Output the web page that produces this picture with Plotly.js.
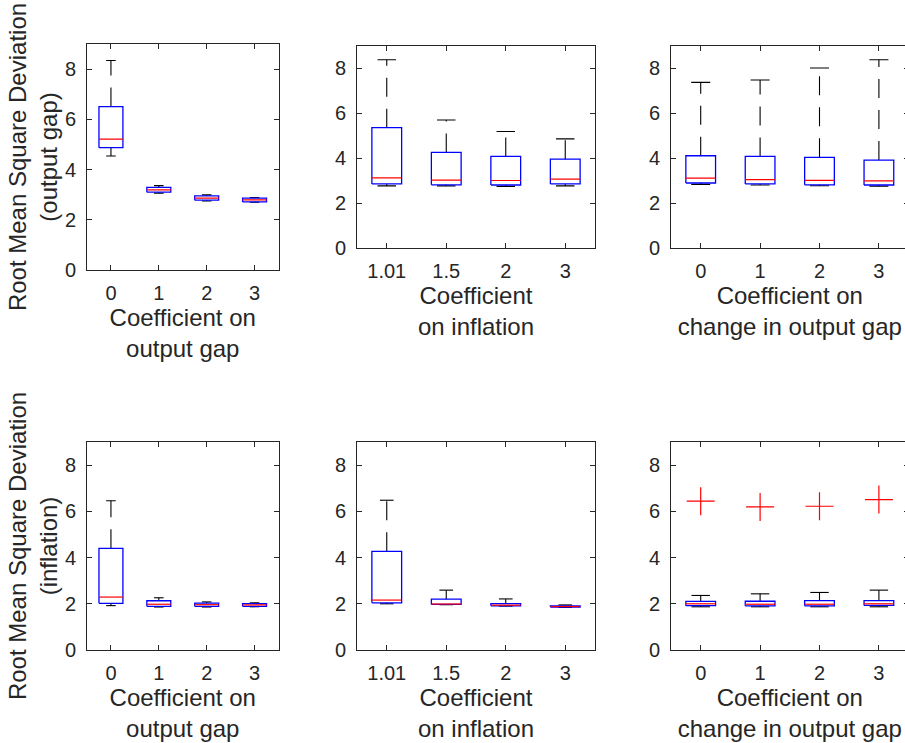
<!DOCTYPE html>
<html>
<head>
<meta charset="utf-8">
<script src="https://cdn.plot.ly/plotly-3.0.1.min.js"></script>
<style>
  html, body { margin: 0; padding: 0; overflow: hidden; background: #fff; }
  #chart { width: 909px; height: 743px; }
</style>
</head>
<body>
<div id="chart"></div>
<script>
// ---------------- DATA ----------------
const positions = [1, 2, 3, 4];
const ticksOutputGap = ['0', '1', '2', '3'];
const ticksInflation = ['1.01', '1.5', '2', '3'];
const ticksChange = ['0', '1', '2', '3'];

// Panel A: RMSD (output gap) vs coefficient on output gap
const aLow = [4.54, 3.06, 2.75, 2.70];
const aQ1  = [4.87, 3.10, 2.78, 2.71];
const aMed = [5.21, 3.19, 2.86, 2.79];
const aQ3  = [6.51, 3.29, 2.95, 2.86];
const aHigh = [8.34, 3.36, 2.99, 2.89];

// Panel B: RMSD (output gap) vs coefficient on inflation
const bLow = [2.76, 2.76, 2.74, 2.76];
const bQ1  = [2.85, 2.81, 2.80, 2.85];
const bMed = [3.12, 3.02, 3.00, 3.06];
const bQ3  = [5.35, 4.25, 4.07, 3.95];
const bHigh = [8.37, 5.69, 5.18, 4.85];

// Panel C: RMSD (output gap) vs coefficient on change in output gap
const cLow = [2.83, 2.80, 2.77, 2.75];
const cQ1  = [2.89, 2.85, 2.81, 2.80];
const cMed = [3.11, 3.04, 3.01, 2.98];
const cQ3  = [4.10, 4.07, 4.03, 3.91];
const cHigh = [7.36, 7.47, 8.00, 8.37];

// Panel D: RMSD (inflation) vs coefficient on output gap
const dLow = [1.92, 1.86, 1.86, 1.87];
const dQ1  = [2.02, 1.89, 1.89, 1.89];
const dMed = [2.29, 1.98, 1.96, 1.95];
const dQ3  = [4.40, 2.13, 2.03, 2.01];
const dHigh = [6.46, 2.26, 2.08, 2.04];

// Panel E: RMSD (inflation) vs coefficient on inflation
const eLow = [2.00, 1.96, 1.90, 1.84];
const eQ1  = [2.04, 1.97, 1.91, 1.86];
const eMed = [2.16, 1.99, 1.94, 1.88];
const eQ3  = [4.27, 2.20, 2.01, 1.91];
const eHigh = [6.48, 2.59, 2.21, 1.95];

// Panel F: RMSD (inflation) vs coefficient on change in output gap
const fLow = [1.87, 1.87, 1.87, 1.87];
const fQ1  = [1.92, 1.91, 1.91, 1.93];
const fMed = [2.00, 1.98, 1.98, 2.00];
const fQ3  = [2.10, 2.11, 2.14, 2.14];
const fHigh = [2.36, 2.43, 2.49, 2.59];
const fOutliers = [6.44, 6.19, 6.22, 6.51];

// ---------------- STYLE ----------------
const W = 909, H = 743;
const DARK = '#262626';
const FONT = '"Liberation Sans", Arial, Helvetica, sans-serif';
const BOX_HALF = 0.25;

function px2x(a, b) { return [a / W, Math.min(1, b / W)]; }
function px2y(top, bottom) { return [(H - bottom) / H, (H - top) / H]; }

const traces = [];

function addPanel(n, low, q1, med, q3, high, capHalf, outliers) {
  const xa = n === 1 ? 'x' : 'x' + n;
  const ya = n === 1 ? 'y' : 'y' + n;
  const bx = [], by = [], mx = [], my = [], wx = [], wy = [], kx = [], ky = [];
  positions.forEach((p, i) => {
    bx.push(p - BOX_HALF, p + BOX_HALF, p + BOX_HALF, p - BOX_HALF, p - BOX_HALF, null);
    by.push(q1[i], q1[i], q3[i], q3[i], q1[i], null);
    mx.push(p - BOX_HALF, p + BOX_HALF, null);
    my.push(med[i], med[i], null);
    wx.push(p, p, null, p, p, null);
    wy.push(q3[i], high[i], null, q1[i], low[i], null);
    kx.push(p - capHalf, p + capHalf, null, p - capHalf, p + capHalf, null);
    ky.push(high[i], high[i], null, low[i], low[i], null);
  });
  const common = { xaxis: xa, yaxis: ya, mode: 'lines', hoverinfo: 'skip', showlegend: false };
  traces.push(Object.assign({ x: wx, y: wy, line: { color: '#000', width: 1.1, dash: '19px,12px' } }, common));
  traces.push(Object.assign({ x: kx, y: ky, line: { color: '#000', width: 1.1 } }, common));
  traces.push(Object.assign({ x: bx, y: by, line: { color: '#0000ff', width: 1.3 } }, common));
  traces.push(Object.assign({ x: mx, y: my, line: { color: '#ff0000', width: 1.2 } }, common));
  if (outliers) {
    traces.push({ x: positions, y: outliers, xaxis: xa, yaxis: ya, mode: 'markers', showlegend: false,
      hoverinfo: 'skip',
      marker: { symbol: 'cross-thin', size: 20, color: '#ff0000', line: { color: '#ff0000', width: 1.2 } } });
  }
}

addPanel(1, aLow, aQ1, aMed, aQ3, aHigh, 0.1);
addPanel(2, bLow, bQ1, bMed, bQ3, bHigh, 0.155);
addPanel(3, cLow, cQ1, cMed, cQ3, cHigh, 0.16);
addPanel(4, dLow, dQ1, dMed, dQ3, dHigh, 0.1);
addPanel(5, eLow, eQ1, eMed, eQ3, eHigh, 0.115);
addPanel(6, fLow, fQ1, fMed, fQ3, fHigh, 0.155, fOutliers);

function xAxis(domain, anchor, ticktext, title) {
  return {
    domain: domain, anchor: anchor, range: [0.5, 4.5],
    tickmode: 'array', tickvals: positions, ticktext: ticktext,
    ticks: 'inside', ticklen: 5, tickwidth: 1, tickcolor: DARK,
    showline: true, linecolor: DARK, linewidth: 1, mirror: 'ticks',
    showgrid: false, zeroline: false, fixedrange: true,
    ticklabelstandoff: 5,
    tickfont: { family: FONT, size: 20, color: DARK },
    title: { text: title, font: { family: FONT, size: 24, color: DARK }, standoff: 5 }
  };
}
function yAxis(domain, anchor, title) {
  const ax = {
    domain: domain, anchor: anchor, range: [0, 9],
    tickmode: 'array', tickvals: [0, 2, 4, 6, 8],
    ticks: 'inside', ticklen: 5, tickwidth: 1, tickcolor: DARK,
    showline: true, linecolor: DARK, linewidth: 1, mirror: 'ticks',
    showgrid: false, zeroline: false, fixedrange: true,
    ticklabelstandoff: 6,
    tickfont: { family: FONT, size: 20, color: DARK }
  };
  if (title) ax.title = { text: title, font: { family: FONT, size: 24, color: DARK }, standoff: 0 };
  return ax;
}

const colA = px2x(87, 278.5), colB = px2x(357, 595), colC = px2x(671, 908.6);
const rowA = px2y(44, 270), rowBC = px2y(45.5, 248), rowBottom = px2y(442, 650);

const layout = {
  width: W, height: H,
  margin: { l: 0, r: 0, t: 0, b: 0 },
  paper_bgcolor: '#ffffff', plot_bgcolor: '#ffffff',
  font: { family: FONT, color: DARK },
  showlegend: false,
  xaxis:  xAxis(colA, 'y',  ticksOutputGap, 'Coefficient on<br>output gap'),
  yaxis:  yAxis(rowA, 'x', 'Root Mean Square Deviation<br>(output gap)'),
  xaxis2: xAxis(colB, 'y2', ticksInflation, 'Coefficient<br>on inflation'),
  yaxis2: yAxis(rowBC, 'x2'),
  xaxis3: xAxis(colC, 'y3', ticksChange, 'Coefficient on<br>change in output gap'),
  yaxis3: yAxis(rowBC, 'x3'),
  xaxis4: xAxis(colA, 'y4', ticksOutputGap, 'Coefficient on<br>output gap'),
  yaxis4: yAxis(rowBottom, 'x4', 'Root Mean Square Deviation<br>(inflation)'),
  xaxis5: xAxis(colB, 'y5', ticksInflation, 'Coefficient<br>on inflation'),
  yaxis5: yAxis(rowBottom, 'x5'),
  xaxis6: xAxis(colC, 'y6', ticksChange, 'Coefficient on<br>change in output gap'),
  yaxis6: yAxis(rowBottom, 'x6')
};

Plotly.newPlot('chart', traces, layout, { displayModeBar: false, staticPlot: true });
</script>
</body>
</html>
